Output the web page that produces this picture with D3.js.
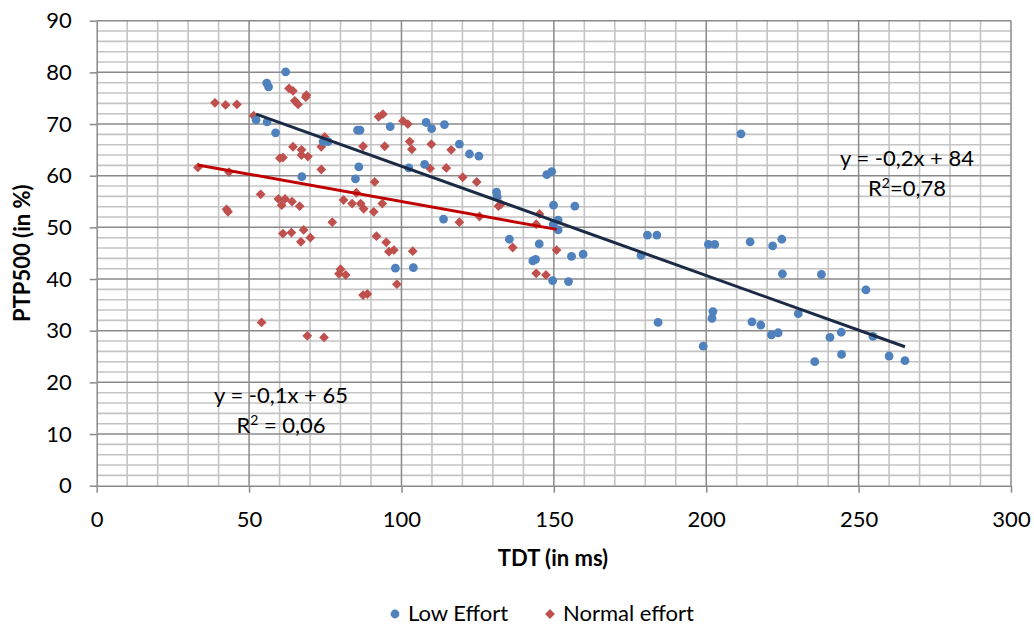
<!DOCTYPE html>
<html>
<head>
<meta charset="utf-8">
<script src="https://cdn.jsdelivr.net/npm/d3@7"></script>
<style>
  html, body { margin: 0; padding: 0; background: #fff; }
  svg { display: block; font-family: Lato, "Open Sans", sans-serif; }
</style>
</head>
<body>
<svg id="chart" width="1034" height="625"></svg>
<script>
// ---- data ----
const lowX = [62.0,55.8,56.4,52.3,55.9,58.7,74.3,75.9,85.6,86.4,96.3,67.3,86.0,84.9,108.1,109.9,114.1,119.0,122.3,125.4,102.4,107.6,131.2,131.4,147.7,149.3,149.9,156.9,151.4,149.8,151.4,113.8,135.4,145.2,143.1,144.0,149.6,154.8,155.8,159.6,98.0,103.9,211.4,180.7,183.8,178.6,200.7,202.8,214.4,221.8,224.8,225.0,237.8,252.4,184.2,202.2,201.9,199.0,215.0,217.9,221.4,223.6,230.2,240.6,244.3,244.4,235.6,254.7,260.0,265.2];
const lowY = [80.1,77.9,77.2,70.8,70.4,68.3,66.6,66.6,68.8,68.8,69.5,59.8,61.7,59.4,70.3,69.1,69.9,66.1,64.2,63.8,61.5,62.2,56.8,55.9,60.2,60.8,54.3,54.1,51.4,50.6,49.5,51.6,47.7,46.8,43.5,43.8,39.7,39.5,44.4,44.8,42.1,42.2,68.1,48.5,48.5,44.6,46.7,46.7,47.2,46.4,47.7,41.0,40.9,37.9,31.6,33.7,32.4,27.0,31.7,31.1,29.2,29.6,33.3,28.7,29.7,25.4,24.0,28.9,25.1,24.2];
const normX = [38.8,42.3,46.0,51.5,33.2,43.4,42.6,43.1,53.8,63.1,64.4,65.0,66.1,68.8,68.6,64.4,67.2,67.2,69.3,60.1,61.1,73.7,73.7,74.8,59.6,61.8,60.7,64.1,66.6,77.3,61.1,63.9,67.9,70.1,67.0,81.0,87.4,94.5,92.5,93.9,91.2,85.2,83.8,86.6,87.6,90.9,93.7,100.5,102.1,102.7,103.4,109.8,116.3,109.4,114.7,120.1,124.7,131.8,132.7,125.6,119.0,145.3,144.2,91.8,95.0,95.9,97.5,98.5,80.0,79.5,81.7,87.4,88.8,54.1,69.1,74.6,103.7,136.5,150.9,144.2,147.4];
const normY = [74.1,73.7,73.8,71.6,61.6,60.7,53.5,53.0,56.4,76.9,76.4,74.5,73.8,75.6,75.2,65.6,65.0,64.0,63.7,63.4,63.5,65.6,61.2,67.5,55.5,55.5,54.3,55.0,54.1,51.0,48.8,49.0,49.5,48.0,47.2,55.3,65.7,65.7,71.4,71.9,58.8,56.7,54.6,54.6,53.6,53.0,54.6,70.6,70.0,66.6,65.1,66.1,65.0,61.4,61.5,59.7,58.8,54.1,54.5,52.1,51.0,52.6,50.6,48.3,47.1,45.3,45.6,39.0,41.9,41.0,40.8,36.9,37.1,31.6,29.0,28.7,45.4,46.1,45.6,41.1,40.8];
const seriesNames = ["Low Effort", "Normal effort"];
const xTicks = [0, 50, 100, 150, 200, 250, 300];
const yTicks = [0, 10, 20, 30, 40, 50, 60, 70, 80, 90];
const lowEqText = ["y = -0,2x + 84", "=0,78"];
const normEqText = ["y = -0,1x + 65", " = 0,06"];

// ---- layout ----
const FS = 22;
const svg = d3.select("#chart");
const L = 96.7, R = 1011, T = 20.7, B = 485.7;
const x = d3.scaleLinear().domain([0, 300]).range([L, R]);
const y = d3.scaleLinear().domain([0, 90]).range([B, T]);

const COL_LOW = "#4f81bd", COL_NORM = "#c0504d";
const COL_LOW_TR = "#1b2a45", COL_NORM_TR = "#c00000";

// minor grid
const g = svg.append("g");
g.selectAll(".mx").data(d3.range(0, 301, 10).filter(v => v % 50 !== 0)).join("line")
  .attr("x1", d => x(d)).attr("x2", d => x(d)).attr("y1", T).attr("y2", B)
  .attr("stroke", "#c4c4c4").attr("stroke-width", 1.6);
g.selectAll(".my").data(d3.range(0, 91, 2).filter(v => v % 10 !== 0)).join("line")
  .attr("y1", d => y(d)).attr("y2", d => y(d)).attr("x1", L).attr("x2", R)
  .attr("stroke", "#c4c4c4").attr("stroke-width", 1.6);
// major grid
g.selectAll(".Mx").data(xTicks.filter(v => v > 0)).join("line")
  .attr("x1", d => x(d)).attr("x2", d => x(d)).attr("y1", T).attr("y2", B)
  .attr("stroke", "#8a8a8a").attr("stroke-width", 1.5);
g.selectAll(".My").data(yTicks.filter(v => v > 0)).join("line")
  .attr("y1", d => y(d)).attr("y2", d => y(d)).attr("x1", L).attr("x2", R)
  .attr("stroke", "#8a8a8a").attr("stroke-width", 1.5);

// axes
const xAxis = d3.axisBottom(x).tickValues(xTicks).tickSize(7).tickSizeOuter(0);
const yAxis = d3.axisLeft(y).tickValues(yTicks).tickSize(7).tickSizeOuter(0);
const gx = svg.append("g").attr("transform", `translate(0,${B})`).call(xAxis);
const gy = svg.append("g").attr("transform", `translate(${L},0)`).call(yAxis);
[gx, gy].forEach(a => {
  a.select(".domain").attr("stroke", "#8a8a8a").attr("stroke-width", 1.5);
  a.selectAll(".tick line").attr("stroke", "#8a8a8a").attr("stroke-width", 1.5);
  a.selectAll(".tick text").attr("font-family", "Lato, sans-serif").attr("font-size", FS).attr("fill", "#000");
});
gy.selectAll(".tick text").attr("x", -25);
gx.selectAll(".tick text").attr("y", 26);

// axis titles
svg.append("text").attr("x", 553).attr("y", 566).attr("text-anchor", "middle")
  .attr("font-weight", "bold").attr("font-size", FS).text("TDT (in ms)");
svg.append("text").attr("transform", `translate(30,${(T + B) / 2}) rotate(-90)`)
  .attr("text-anchor", "middle").attr("font-weight", "bold").attr("font-size", FS).text("PTP500 (in %)");

// trendlines (least squares fit of each series)
function fit(xs, ys) {
  const mx = d3.mean(xs), my = d3.mean(ys);
  let sxy = 0, sxx = 0;
  xs.forEach((v, i) => { sxy += (v - mx) * (ys[i] - my); sxx += (v - mx) ** 2; });
  const m = sxy / sxx;
  return { m, b: my - m * mx, x0: d3.min(xs), x1: d3.max(xs) };
}
const trends = [
  { f: fit(lowX, lowY), c: COL_LOW_TR },
  { f: fit(normX, normY), c: COL_NORM_TR }
];

// points
const diamondPath = d3.symbol().type(d3.symbolSquare).size(48)();
svg.append("g").selectAll("path").data(normX.map((v, i) => [v, normY[i]])).join("path")
  .attr("d", diamondPath)
  .attr("transform", d => `translate(${x(d[0])},${y(d[1])}) rotate(45)`)
  .attr("fill", COL_NORM);
svg.append("g").selectAll("circle").data(lowX.map((v, i) => [v, lowY[i]])).join("circle")
  .attr("cx", d => x(d[0])).attr("cy", d => y(d[1])).attr("r", 4.4)
  .attr("fill", COL_LOW);

trends.forEach(t => {
  svg.append("line")
    .attr("x1", x(t.f.x0)).attr("y1", y(t.f.m * t.f.x0 + t.f.b))
    .attr("x2", x(t.f.x1)).attr("y2", y(t.f.m * t.f.x1 + t.f.b))
    .attr("stroke", t.c).attr("stroke-width", 3);
});

// equation labels
function eq(lines, cx, cy) {
  const t = svg.append("text").attr("text-anchor", "middle").attr("font-size", FS);
  t.append("tspan").attr("x", cx).attr("y", cy).text(lines[0]);
  const sec = t.append("tspan").attr("x", cx).attr("y", cy + 30);
  sec.append("tspan").text("R");
  sec.append("tspan").attr("font-size", 14).attr("dy", -8).text("2");
  sec.append("tspan").attr("dy", 8).text(lines[1]);
}
eq(lowEqText, 907, 166);
eq(normEqText, 281, 403);

// legend
const leg = svg.append("g");
leg.append("circle").attr("cx", 395).attr("cy", 614).attr("r", 4.4).attr("fill", COL_LOW);
leg.append("text").attr("x", 408).attr("y", 621).attr("font-size", FS).text(seriesNames[0]);
leg.append("path").attr("d", diamondPath)
  .attr("transform", "translate(550,614) rotate(45)").attr("fill", COL_NORM);
leg.append("text").attr("x", 563).attr("y", 621).attr("font-size", FS).text(seriesNames[1]);
</script>
</body>
</html>
